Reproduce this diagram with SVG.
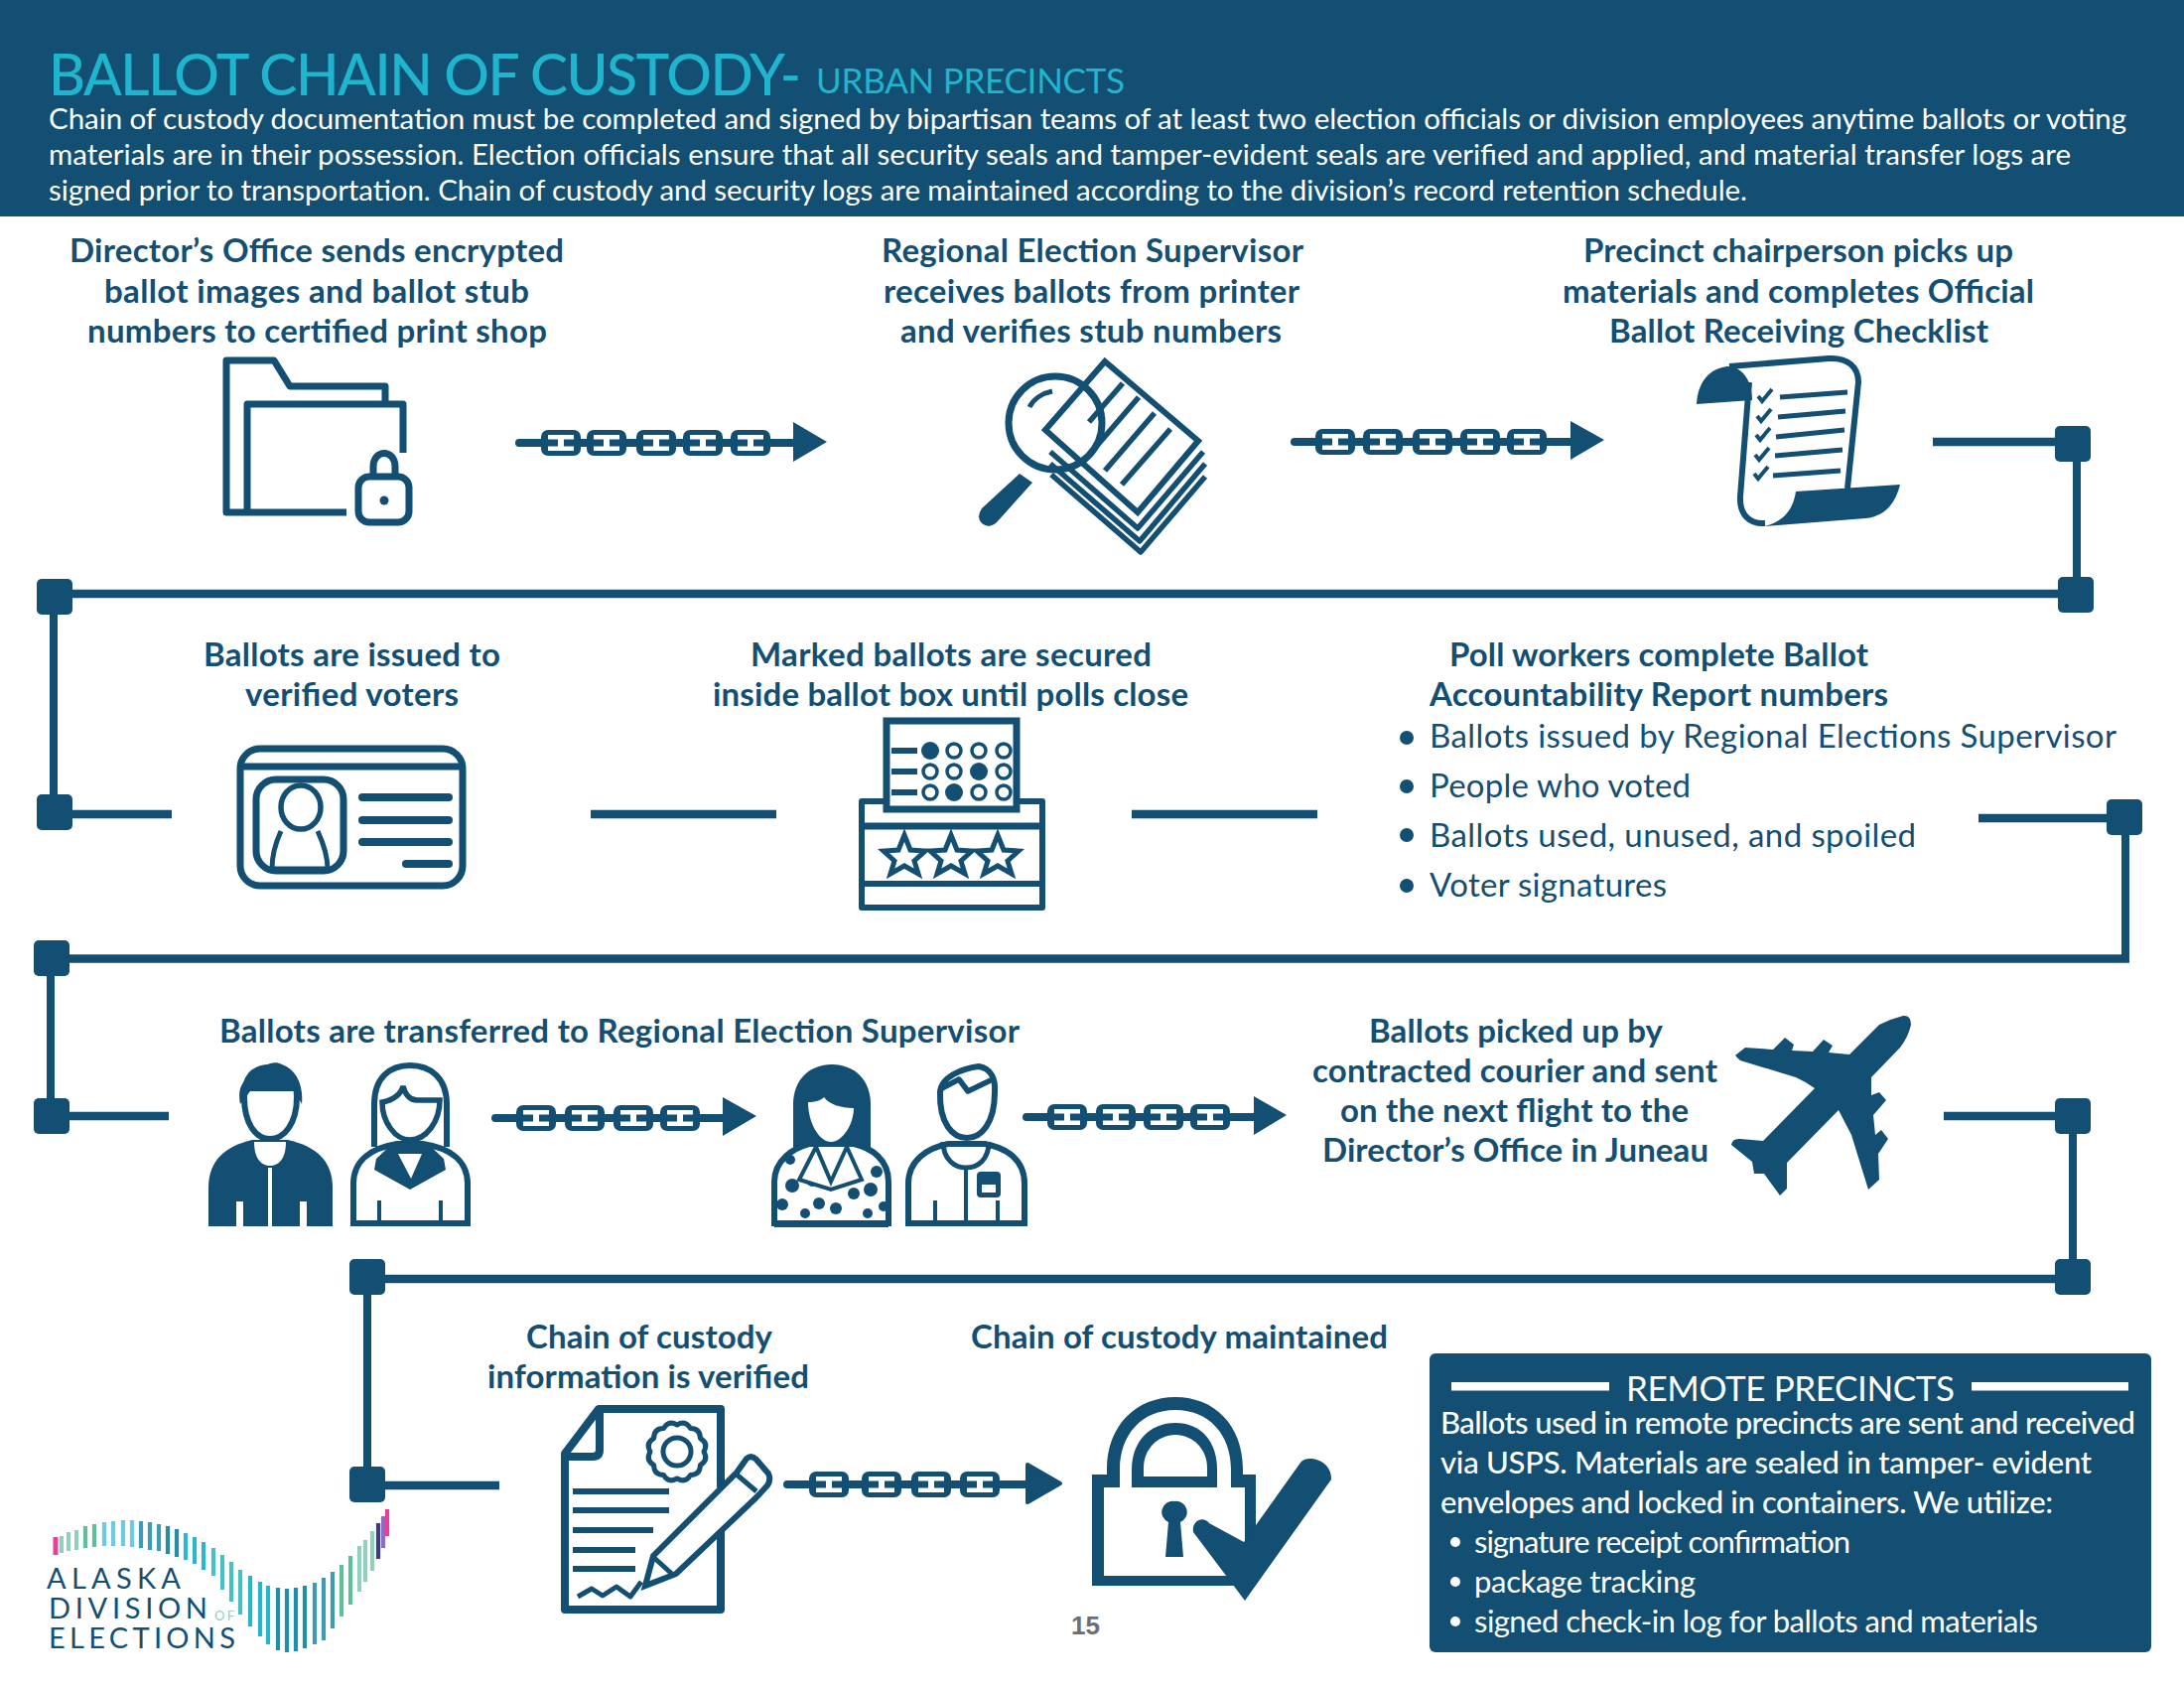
<svg xmlns="http://www.w3.org/2000/svg" width="2200" height="1700" viewBox="0 0 2200 1700">
<style>
text{font-family:"Lato","Noto Sans",sans-serif;fill:#134e73;transform:translateY(1.5px)}
.h{font-size:33px;font-weight:700}
.b{font-size:33px;font-weight:400}
.w{fill:#fff;font-size:29.5px;font-weight:400}
.wm{fill:#fff;font-size:31px;font-weight:500}
.wl{fill:#fff;font-size:31px;font-weight:400}
.lg{font-size:29px}
.d{fill:#134e73}
.wf{fill:#fff}
.o{fill:none;stroke:#134e73;stroke-linejoin:round}
.of{fill:#fff;stroke:#134e73;stroke-linejoin:miter}
.rc{stroke-linecap:round}
.conn{fill:none;stroke:#134e73;stroke-width:8.5}
.thin{fill:none;stroke:#134e73;stroke-width:8}
.sq{fill:#134e73}
.st{fill:none;stroke-width:4.2}
</style>
<defs>
<g id="link"><rect x="-20" y="-13" width="40" height="26" rx="7" fill="#134e73"/><path d="M-13 -8H13V-3.5H3V3.5H13V8H-13V3.5H-3V-3.5H-13Z" fill="#fff"/></g>
<rect id="sqr" x="-18" y="-18" width="36" height="36" rx="5" fill="#134e73"/>
<path id="chk" d="M0 0l4 5 10-12" fill="none" stroke="#134e73" stroke-width="4"/>
</defs>
<rect id="header-band" width="2200" height="218" fill="#134e73"/>
<g id="header">
<text x="49" y="94" font-size="57" font-weight="500" textLength="758" style="fill:#1fb5ce">BALLOT CHAIN OF CUSTODY-</text>
<text x="822" y="92" font-size="35" textLength="311" style="fill:#1fb5ce">URBAN PRECINCTS</text>
<text class="w" x="49" y="128" textLength="2093">Chain of custody documentation must be completed and signed by bipartisan teams of at least two election officials or division employees anytime ballots or voting</text>
<text class="w" x="49" y="164" textLength="2037">materials are in their possession. Election officials ensure that all security seals and tamper-evident seals are verified and applied, and material transfer logs are</text>
<text class="w" x="49" y="200" textLength="1711">signed prior to transportation. Chain of custody and security logs are maintained according to the division’s record retention schedule.</text>
</g>
<g id="connectors">
<path class="conn" d="M1947 445H2085"/><path class="thin" d="M2092 446V600"/><path class="conn" d="M2092 598H55"/><path class="thin" d="M54 600V819"/><path class="conn" d="M55 820H173"/>
<path class="conn" d="M595 820H782"/><path class="conn" d="M1140 820H1327"/>
<path class="conn" d="M1993 824H2141"/><path class="thin" d="M2141 823V965"/><path class="conn" d="M2145 965.5H52"/><path class="thin" d="M51 965V1124"/><path class="conn" d="M52 1124H170"/>
<path class="conn" d="M1958 1124H2088"/><path class="thin" d="M2088 1124V1287"/><path class="conn" d="M2088 1288H370"/><path class="thin" d="M370 1287V1495"/><path class="conn" d="M370 1496H503"/>
<use href="#sqr" x="2088" y="447"/><use href="#sqr" x="2091" y="599"/><use href="#sqr" x="55" y="601"/><use href="#sqr" x="55" y="818"/><use href="#sqr" x="2140" y="823"/><use href="#sqr" x="52" y="965"/><use href="#sqr" x="52" y="1124"/><use href="#sqr" x="2088" y="1124"/><use href="#sqr" x="2088" y="1286"/><use href="#sqr" x="370" y="1286"/><use href="#sqr" x="370" y="1495"/>
<g id="chain1"><path class="thin rc" d="M523 446H805"/><use href="#link" x="565" y="446"/><use href="#link" x="611" y="446"/><use href="#link" x="661" y="446"/><use href="#link" x="708" y="446"/><use href="#link" x="756" y="446"/><path class="d" d="M799 425L833 445L799 465Z"/></g>
<g id="chain2"><path class="thin rc" d="M1304 445H1590"/><use href="#link" x="1345" y="445"/><use href="#link" x="1393" y="445"/><use href="#link" x="1443" y="445"/><use href="#link" x="1491" y="445"/><use href="#link" x="1538" y="445"/><path class="d" d="M1582 424L1616 443L1582 463Z"/></g>
<g id="chain3"><path class="thin rc" d="M499 1126H735"/><use href="#link" x="540" y="1126"/><use href="#link" x="589" y="1126"/><use href="#link" x="638" y="1126"/><use href="#link" x="685" y="1126"/><path class="d" d="M728 1105L762 1124L728 1144Z"/></g>
<g id="chain4"><path class="thin rc" d="M1034 1125H1270"/><use href="#link" x="1075" y="1125"/><use href="#link" x="1124" y="1125"/><use href="#link" x="1172" y="1125"/><use href="#link" x="1219" y="1125"/><path class="d" d="M1263 1104L1296 1123L1263 1143Z"/></g>
<g id="chain5"><path class="thin rc" d="M793 1495H1040"/><use href="#link" x="835" y="1495"/><use href="#link" x="888" y="1495"/><use href="#link" x="938" y="1495"/><use href="#link" x="987" y="1495"/><path class="d" stroke="#134e73" stroke-width="4" stroke-linejoin="round" d="M1035 1475L1068 1494L1035 1513Z"/></g>
</g>
<g id="node-directors-office">
<text class="h" x="70" y="262" textLength="498">Director’s Office sends encrypted</text>
<text class="h" x="105" y="303" textLength="428">ballot images and ballot stub</text>
<text class="h" x="88" y="343" textLength="463">numbers to certified print shop</text>
<path class="o" stroke-width="7" d="M349 516H228V363H276L292 389H388V407"/>
<path class="o" stroke-width="7" d="M249 516V407H406V456"/>
<rect class="o" stroke-width="7" x="361" y="480" width="51" height="46" rx="11"/>
<path class="o" stroke-width="7" d="M376 480V470C376 452 398 452 398 470V480"/>
<circle class="d" cx="387" cy="504" r="4.5"/>
</g>
<g id="node-regional-supervisor">
<text class="h" x="888" y="262" textLength="425">Regional Election Supervisor</text>
<text class="h" x="890" y="303" textLength="419">receives ballots from printer</text>
<text class="h" x="907" y="343" textLength="384">and verifies stub numbers</text>
<g class="o" stroke-width="5.5"><path d="M1058 455L1146 532L1212 455"/><path d="M1058 467L1148 545L1214 467"/><path d="M1059 478L1149 556L1214 480"/></g>
<path class="of" stroke-width="6" d="M1113 364L1207 444L1146 516L1053 433Z"/>
<g class="o" stroke-width="5.5"><path d="M1131 386L1097 425"/><path d="M1147 400L1104 450"/><path d="M1163 416L1113 474"/><path d="M1179 432L1130 488"/></g>
<circle class="o" stroke-width="7" cx="1063" cy="426" r="47"/>
<path class="o" stroke-width="5" d="M1037 410C1041 402 1050 396 1060 394"/>
<path class="d" d="M1027 477L1040 486L1004 526Q996 533 989 527Q983 521 989 512Z"/>
</g>
<g id="node-precinct-chair">
<text class="h" x="1595" y="262" textLength="433">Precinct chairperson picks up</text>
<text class="h" x="1574" y="303" textLength="475">materials and completes Official</text>
<text class="h" x="1621" y="343" textLength="382">Ballot Receiving Checklist</text>
<path class="o" stroke-width="6" d="M1742 369L1842 361C1862 360 1872 370 1872 385L1861 492M1762 385L1753 500C1752 518 1762 528 1778 527"/>
<path class="d" d="M1709 407C1710 385 1722 370 1742 369C1756 370 1765 385 1765 403Z"/>
<path class="d" d="M1809 495L1914 488C1910 505 1900 520 1879 522L1777 530C1795 526 1806 515 1809 495Z"/>
<g class="o" stroke-width="5"><path d="M1793 400L1861 395"/><path d="M1791 420L1859 414"/><path d="M1789 440L1858 433"/><path d="M1788 459L1856 453"/><path d="M1786 479L1854 474"/></g>
<use href="#chk" x="1771" y="399"/><use href="#chk" x="1770" y="419"/><use href="#chk" x="1769" y="438"/><use href="#chk" x="1768" y="458"/><use href="#chk" x="1767" y="477"/>
</g>
<g id="node-verified-voters">
<text class="h" x="205" y="669" textLength="299">Ballots are issued to</text>
<text class="h" x="247" y="709" textLength="215">verified voters</text>
<rect class="o" stroke-width="7" x="242" y="754" width="224" height="138" rx="20"/>
<path class="o" stroke-width="7" d="M242 772H466"/>
<rect class="o" stroke-width="7" x="258" y="785" width="88" height="92" rx="20"/>
<ellipse class="o" stroke-width="5.5" cx="303" cy="813" rx="20" ry="22"/>
<path class="o" stroke-width="5" d="M283 837C277 850 274 862 274 875H330C330 862 326 850 320 837"/>
<g class="o rc" stroke-width="8"><path d="M365 803H452"/><path d="M365 826H452"/><path d="M365 848H452"/><path d="M409 870H452"/></g>
</g>
<g id="node-ballot-box">
<text class="h" x="756" y="669" textLength="404">Marked ballots are secured</text>
<text class="h" x="718" y="709" textLength="479">inside ballot box until polls close</text>
<rect class="o" stroke-width="6" x="868" y="807" width="182" height="107"/>
<path class="o" stroke-width="7" d="M868 832H1050"/><path class="o" stroke-width="6" d="M868 890H1050"/>
<rect class="of" stroke-width="7" x="893" y="726" width="131" height="89"/>
<g class="o" stroke-width="6"><path d="M898 756H924"/><path d="M898 777H924"/><path d="M898 798H924"/></g>
<g class="of" stroke-width="3.5"><circle cx="961" cy="756" r="7"/><circle cx="986" cy="756" r="7"/><circle cx="1011" cy="756" r="7"/><circle cx="937" cy="777" r="7"/><circle cx="961" cy="777" r="7"/><circle cx="1011" cy="777" r="7"/><circle cx="937" cy="798" r="7"/><circle cx="986" cy="798" r="7"/><circle cx="1011" cy="798" r="7"/></g>
<circle class="d" cx="937" cy="756" r="9"/><circle class="d" cx="986" cy="777" r="9"/><circle class="d" cx="961" cy="798" r="9"/>
<g class="of" stroke-width="5"><path d="M911 841L917 856L932 857L921 867L925 880L911 872L897 880L901 867L890 857L905 856Z"/><path d="M958 841L964 856L979 857L968 867L972 880L958 872L944 880L948 867L937 857L952 856Z"/><path d="M1005 841L1011 856L1026 857L1015 867L1019 880L1005 872L991 880L995 867L984 857L999 856Z"/></g>
</g>
<g id="node-poll-workers">
<text class="h" x="1460" y="669" textLength="422">Poll workers complete Ballot</text>
<text class="h" x="1440" y="709" textLength="462">Accountability Report numbers</text>
<circle class="d" cx="1417" cy="743" r="7"/><text class="b" x="1440" y="751" textLength="692">Ballots issued by Regional Elections Supervisor</text>
<circle class="d" cx="1417" cy="792" r="7"/><text class="b" x="1440" y="801" textLength="263">People who voted</text>
<circle class="d" cx="1417" cy="841" r="7"/><text class="b" x="1440" y="851" textLength="490">Ballots used, unused, and spoiled</text>
<circle class="d" cx="1417" cy="892" r="7"/><text class="b" x="1440" y="901" textLength="239">Voter signatures</text>
</g>
<g id="node-transfer">
<text class="h" x="221" y="1048" textLength="806">Ballots are transferred to Regional Election Supervisor</text>
<g id="person1">
<path class="d" d="M210 1235V1196C210 1168 228 1154 254 1148H290C317 1154 335 1168 335 1196V1235Z"/>
<path class="wf" d="M256 1150C256 1168 264 1174 272 1174C280 1174 288 1168 288 1150Z"/>
<rect class="wf" x="270" y="1176" width="4" height="59"/><rect class="wf" x="238" y="1210" width="7" height="25"/><rect class="wf" x="302" y="1210" width="7" height="25"/>
<path class="of" stroke-width="6" d="M246 1105C246 1132 258 1147 272 1147C286 1147 299 1132 299 1105C299 1085 290 1075 272 1075C255 1075 246 1085 246 1105Z"/>
<path class="d" d="M242 1112C238 1092 248 1086 258 1080C265 1074 275 1067 284 1072C298 1077 306 1092 304 1112L297 1099H252Z"/>
</g>
<g id="person2">
<path class="of" stroke-width="6" d="M356 1232V1192C356 1168 375 1156 400 1152H426C452 1156 471 1168 471 1192V1232Z"/>
<path class="d" d="M397 1150L379 1167L377 1178L413 1198L449 1178L447 1167L429 1150Z"/>
<path class="wf" d="M401 1162L414 1187L425 1162Z"/>
<path class="o" stroke-width="6" d="M377 1155V1112C377 1085 393 1073 413 1073C433 1073 450 1085 450 1112V1155"/>
<path class="of" stroke-width="5.5" d="M385 1110C385 1130 398 1148 413 1148C429 1148 443 1130 443 1108H420C413 1108 408 1102 406 1094C404 1102 396 1108 385 1110Z"/>
<path class="o" stroke-width="4" d="M382 1209V1230M444 1209V1230"/><path class="o" stroke-width="6" d="M356 1232H471"/>
</g>
<g id="person3">
<path class="of" stroke-width="6" d="M780 1232V1190C780 1168 800 1156 815 1152H860C878 1156 895 1168 895 1190V1232Z"/>
<g class="d"><circle cx="798" cy="1194" r="7"/><circle cx="825" cy="1212" r="6"/><circle cx="842" cy="1217" r="6"/><circle cx="860" cy="1202" r="6"/><circle cx="877" cy="1198" r="7"/><circle cx="883" cy="1180" r="6"/><circle cx="796" cy="1168" r="5"/><circle cx="788" cy="1213" r="6"/><circle cx="811" cy="1222" r="5"/><circle cx="874" cy="1222" r="5"/><circle cx="890" cy="1215" r="5"/><circle cx="818" cy="1190" r="5"/></g>
<path class="d" d="M799 1155V1112C799 1088 815 1072 838 1072C861 1072 877 1088 877 1112V1155Z"/>
<path class="of" stroke-width="4" d="M822 1155L805 1188L837 1198L868 1188L853 1155L837 1190Z"/>
<path class="wf" d="M814 1110C814 1132 826 1150 837 1150C849 1150 860 1132 860 1116C847 1116 835 1112 830 1105C828 1108 820 1110 814 1110Z"/>
<path class="o" stroke-width="6" d="M780 1233H895"/>
</g>
<g id="person4">
<path class="of" stroke-width="6" d="M915 1232V1192C915 1168 935 1156 955 1152H992C1014 1156 1032 1168 1032 1192V1232Z"/>
<path class="o" stroke-width="5" d="M950 1150C950 1168 962 1176 973 1176C985 1176 996 1168 996 1150"/>
<path class="o" stroke-width="4" d="M973 1176V1232M942 1209V1230M1005 1209V1230"/>
<rect class="d" x="984" y="1180" width="24" height="26" rx="4"/><rect class="wf" x="989" y="1193" width="14" height="8"/>
<path class="of" stroke-width="6" d="M947 1100C946 1132 960 1146 974 1146C988 1146 1002 1132 1002 1100C1003 1086 998 1076 986 1074C970 1076 948 1084 947 1100Z"/>
<path class="o" stroke-width="5.5" d="M947 1097L966 1087L975 1099L1002 1086"/>
</g>
</g>
<g id="node-courier">
<text class="h" x="1379" y="1048" textLength="296">Ballots picked up by</text>
<text class="h" x="1322" y="1088" textLength="408">contracted courier and sent</text>
<text class="h" x="1350" y="1128" textLength="351">on the next flight to the</text>
<text class="h" x="1332" y="1168" textLength="389">Director’s Office in Juneau</text>
<path class="d" d="M1917 1023Q1925 1022 1925 1032Q1922 1045 1914 1055L1885 1085V1103L1893 1100L1900 1108L1887 1123L1889 1143L1895 1138L1902 1147L1892 1162L1893 1188L1882 1198L1865 1143L1852 1118L1800 1171L1800 1197L1793 1204L1777 1182L1767 1182L1765 1170L1744 1153Q1745 1146 1753 1147L1776 1149L1828 1096Q1820 1090 1809 1085L1753 1068Q1746 1062 1749 1062L1758 1055L1786 1057L1798 1045L1807 1052L1805 1058L1826 1059L1837 1047L1846 1053L1842 1060L1863 1062L1893 1032Q1905 1026 1917 1023Z"/>
</g>
<g id="node-verified">
<text class="h" x="530" y="1356" textLength="248">Chain of custody</text>
<text class="h" x="491" y="1396" textLength="324">information is verified</text>
<path class="o" stroke-width="8" d="M726 1498V1419H603L569 1464V1621H726V1538"/>
<path class="o" stroke-width="8" d="M604 1419V1460Q604 1467 597 1467H571"/>
<g transform="translate(682 1462)"><path class="o" stroke-width="5" d="M27 0Q31.9 8.5 23.4 13.5Q23.3 23.3 13.5 23.4Q8.5 31.9 0 27Q-8.5 31.9 -13.5 23.4Q-23.3 23.3 -23.4 13.5Q-31.9 8.5 -27 0Q-31.9 -8.5 -23.4 -13.5Q-23.3 -23.3 -13.5 -23.4Q-8.5 -31.9 0 -27Q8.5 -31.9 13.5 -23.4Q23.3 -23.3 23.4 -13.5Q31.9 -8.5 27 0Z"/><circle class="o" stroke-width="5" r="14"/></g>
<g class="o" stroke-width="6"><path d="M577 1502H674"/><path d="M577 1521H674"/><path d="M577 1541H658"/><path d="M577 1561H640"/><path d="M577 1580H640"/></g>
<path class="o" stroke-width="5" d="M582 1608L596 1600L607 1607L621 1598L635 1608L646 1593"/>
<path class="of" stroke-width="6" d="M650 1597L658 1567L742 1483L752 1469Q757 1465 762 1470L774 1484Q777 1490 773 1496L763 1507L681 1585Z"/>
<path class="o" stroke-width="5" d="M742 1485L762 1502M658 1568L679 1587"/>
</g>
<g id="node-maintained">
<text class="h" x="978" y="1356" textLength="420">Chain of custody maintained</text>
<path class="d" d="M1100 1485H1115V1480C1115 1435 1145 1407 1184 1407C1223 1407 1252 1435 1252 1480V1485H1265V1597H1100Z"/>
<path class="wf" d="M1112 1587V1498H1128V1480C1128 1445 1150 1420 1184 1420C1218 1420 1240 1445 1240 1480V1498H1254V1587Z"/>
<path class="d" d="M1140 1498V1480C1140 1452 1158 1433 1184 1433C1210 1433 1226 1452 1226 1480V1498Z"/>
<path class="wf" d="M1152 1487V1478C1152 1460 1166 1445 1184 1445C1202 1445 1216 1460 1216 1478V1487Z"/>
<path class="d" d="M1183 1512A11 11 0 0 1 1189 1533L1192 1568H1174L1177 1533A11 11 0 0 1 1183 1512Z"/>
<path class="d" d="M1202 1543C1200 1532 1212 1526 1218 1534L1253 1553L1310 1473C1316 1464 1342 1470 1341 1490L1254 1612Z"/>
</g>
<g id="node-remote-precincts">
<rect class="d" x="1440" y="1363" width="727" height="301" rx="6"/>
<rect class="wf" x="1462" y="1392" width="159" height="8.5"/><rect class="wf" x="1986" y="1392" width="158" height="8.5"/>
<text x="1638" y="1409" font-size="35" textLength="331" style="fill:#fff">REMOTE PRECINCTS</text>
<text class="wm" x="1451" y="1442" textLength="700">Ballots used in remote precincts are sent and received</text>
<text class="wm" x="1451" y="1482" textLength="656">via USPS. Materials are sealed in tamper- evident</text>
<text class="wm" x="1451" y="1522" textLength="617">envelopes and locked in containers. We utilize:</text>
<circle class="wf" cx="1466" cy="1553" r="5"/><text class="wl" x="1485" y="1562" textLength="379">signature receipt confirmation</text>
<circle class="wf" cx="1466" cy="1593" r="5"/><text class="wl" x="1485" y="1602" textLength="223">package tracking</text>
<circle class="wf" cx="1466" cy="1633" r="5"/><text class="wl" x="1485" y="1642" textLength="568">signed check-in log for ballots and materials</text>
</g>
<text id="page-number" x="1079" y="1644" font-size="26" font-weight="700" textLength="29" style="font-family:'Liberation Sans',sans-serif;fill:#6d6e71">15</text>
<g id="logo">
<g class="st">
<path stroke="#e83e9c" stroke-width="5" d="M56 1548V1566"/>
<path stroke="#8fd1bd" d="M62 1547V1564M69 1543V1562M77 1541V1561"/>
<path stroke="#5fbf9b" d="M86 1537V1559M95 1535V1558"/>
<path stroke="#6ecae4" d="M105 1533V1557M114 1532V1557M124 1531V1557M133 1531V1558"/>
<path stroke="#3f9bb5" d="M142 1532V1559M151 1533V1561M160 1535V1562"/>
<path stroke="#2a8aa6" d="M169 1537V1565M178 1540V1568"/>
<path stroke="#2bb5cf" d="M187 1544V1571M196 1548V1575M205 1553V1581"/>
<path stroke="#45c0c8" d="M215 1559V1587M224 1566V1601M233 1573V1613M242 1581V1626"/>
<path stroke="#22b6cf" d="M252 1587V1638M262 1593V1648M270 1597V1656"/>
<path stroke="#1f8fab" d="M280 1599V1662M289 1600V1664M298 1599V1663M307 1597V1660"/>
<path stroke="#3f9bb5" d="M317 1594V1656M326 1589V1652M335 1583V1640"/>
<path stroke="#5fbf9b" d="M344 1576V1628M353 1567V1616"/>
<path stroke="#8fd1bd" d="M362 1557V1603M368 1551V1593M375 1542V1582"/>
<path stroke="#3b3a84" d="M381 1534V1570"/>
<path stroke="#8a6fbe" d="M386 1527V1559"/>
<path stroke="#e83e9c" d="M390 1520V1547"/>
</g>
<text class="lg" x="47" y="1598" textLength="135">ALASKA</text>
<text class="lg" x="49" y="1628" textLength="160">DIVISION</text>
<text class="lg" x="49" y="1658" textLength="188">ELECTIONS</text>
<text x="216" y="1630" font-size="13" textLength="20" style="fill:#8fd1bd">OF</text>
</g>
</svg>
